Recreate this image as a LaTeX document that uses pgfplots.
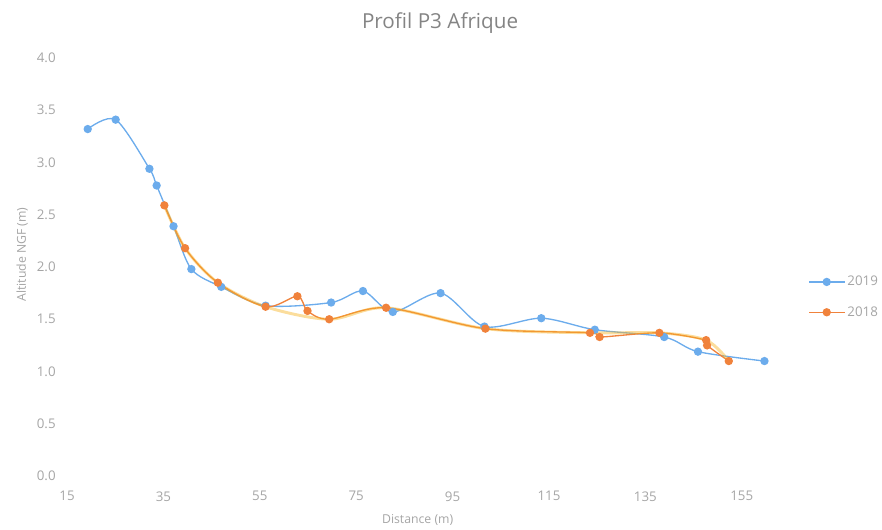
\documentclass[border=0pt]{standalone}
\usepackage{pgfplots}
\pgfplotsset{compat=1.18}
\usepackage{fontspec}
\setmainfont{Open Sans}
\definecolor{cblue}{RGB}{108,172,236}
\definecolor{corange}{RGB}{240,130,60}
\definecolor{ctxt}{RGB}{165,165,165}
\begin{document}
\begin{tikzpicture}
\useasboundingbox (0,0) rectangle (661.5pt,396.75pt);
\begin{axis}[
  at={(50.25pt,39.75pt)}, anchor=south west,
  scale only axis, width=542.25pt, height=313.5pt,
  xmin=15, xmax=165, ymin=0, ymax=4,
  xtick={15,35,55,75,95,115,135,155},
  ytick={0,0.5,1,1.5,2,2.5,3,3.5,4},
  yticklabel style={/pgf/number format/fixed, /pgf/number format/fixed zerofill, /pgf/number format/precision=1},
  /pgf/number format/assume math mode=true,
  axis line style={draw=none},
  major tick style={draw=none},
  ticklabel style={font=\fontsize{10}{11}\selectfont, text=ctxt},
  yticklabel style={xshift=-5pt},
  xticklabel style={yshift=-8pt},
  title={Profil P3 Afrique},
  title style={at={(0.516,1.064)}, anchor=center, font=\fontsize{15.5}{17}\selectfont, text=ctxt!80!black},
  xlabel={Distance (m)},
  ylabel={Altitude NGF (m)},
  xlabel style={at={(0.485,-0.105)}, anchor=center, font=\fontsize{9.2}{11}\selectfont, text=ctxt},
  ylabel style={at={(-0.062,0.53)}, anchor=center, font=\fontsize{9.2}{11}\selectfont, text=ctxt},
  legend style={draw=none, at={(1.02,0.428)}, anchor=west, font=\fontsize{10}{11}\selectfont, text=ctxt, row sep=10pt, fill=none},
  legend image code/.code={\draw[mark repeat=2,mark phase=2] plot coordinates {(0pt,0pt) (13pt,0pt) (26pt,0pt)};},
  legend cell align=left,
  clip=false,
]
\addplot[cblue, line width=1pt, smooth, tension=0.5, mark=*, mark size=2.6pt, mark options={fill=cblue, draw=cblue}] coordinates {
(19.3,3.32) (25.1,3.41) (32.1,2.94) (33.6,2.78) (37.1,2.39) (40.8,1.98) (47.0,1.81) (56.2,1.63) (69.8,1.66) (76.4,1.77) (82.6,1.57) (92.5,1.75) (101.6,1.43) (113.4,1.51) (124.5,1.40) (138.9,1.33) (145.9,1.19) (159.7,1.10)
};
\addlegendentry{2019}
\addplot[corange, line width=1pt, smooth, tension=0.5, mark=*, mark size=2.6pt, mark options={fill=corange, draw=corange}] coordinates {
(35.2,2.59) (39.5,2.18) (46.3,1.85) (56.2,1.62) (62.8,1.72) (64.9,1.58) (69.4,1.50) (81.2,1.61) (101.8,1.41) (123.5,1.37) (125.5,1.33) (137.9,1.37) (147.6,1.30) (147.8,1.25) (152.3,1.10)
};
\addlegendentry{2018}
\addplot[corange!60!yellow, opacity=0.45, line width=2.2pt, smooth, tension=0.5, forget plot] coordinates {
(35.2,2.59) (39.5,2.18) (46.3,1.85) (56.2,1.62) (69.4,1.50) (81.2,1.61) (101.8,1.41) (123.5,1.37) (137.9,1.37) (147.6,1.30) (152.3,1.10)
};
\end{axis}
\end{tikzpicture}
\end{document}
